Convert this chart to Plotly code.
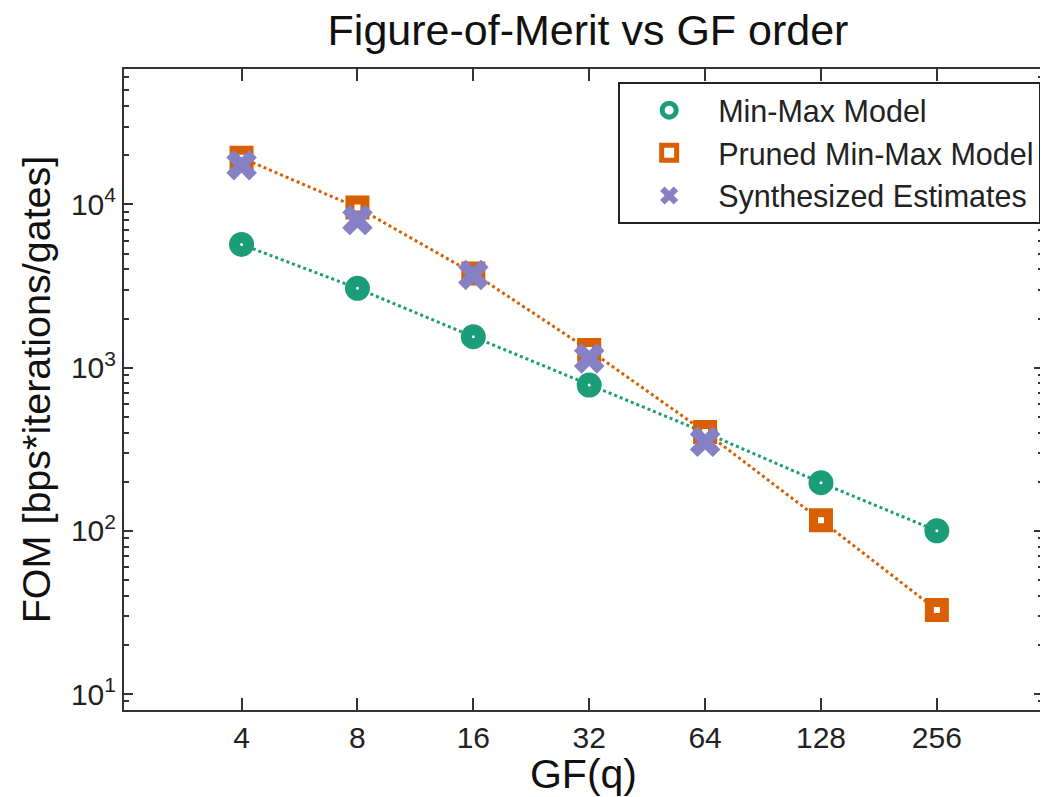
import plotly.graph_objects as go
import math

gf_order = [4, 8, 16, 32, 64, 128, 256]
gf_labels = ["4", "8", "16", "32", "64", "128", "256"]
minmax = [5690, 3060, 1546, 782, 400, 197, 100]
pruned = [19300, 9570, 3780, 1282, 403, 116, 32.7]
synth_q = [4, 8, 16, 32, 64]
synth = [17400, 8020, 3700, 1140, 351]
y_tickvals = [10, 100, 1000, 10000]
y_ticktext = ["10<sup>1</sup>", "10<sup>2</sup>", "10<sup>3</sup>", "10<sup>4</sup>"]

GREEN = "#1b9e77"
ORANGE = "#d95f02"
PURPLE = "#8581c4"
FONT = "Liberation Sans, Arial, sans-serif"

circle_marker = dict(symbol="circle", size=14, color="white", line=dict(color=GREEN, width=11))
square_marker = dict(symbol="square", size=15, color="white", line=dict(color=ORANGE, width=9))
x_marker = dict(symbol="x", size=27, color=PURPLE, line=dict(width=0))

fig = go.Figure()
fig.add_trace(go.Scatter(
    x=gf_order, y=minmax, name="Min-Max Model", mode="lines+markers",
    line=dict(color=GREEN, width=3, dash="dot"), marker=circle_marker, showlegend=False,
))
fig.add_trace(go.Scatter(
    x=gf_order, y=pruned, name="Pruned Min-Max Model", mode="lines+markers",
    line=dict(color=ORANGE, width=3, dash="dot"), marker=square_marker, showlegend=False,
))
fig.add_trace(go.Scatter(
    x=synth_q, y=synth, name="Synthesized Estimates", mode="markers",
    marker=x_marker, showlegend=False,
))
# legend entries (markers only, as in the reference legend)
for name, mk in [("Min-Max Model", circle_marker),
                 ("Pruned Min-Max Model", square_marker),
                 ("Synthesized Estimates", x_marker)]:
    fig.add_trace(go.Scatter(x=[None], y=[None], name=name, mode="markers", marker=mk))

fig.update_layout(
    width=1040, height=789,
    margin=dict(l=116, r=5, t=61, b=87, autoexpand=False),
    paper_bgcolor="white", plot_bgcolor="white",
    font=dict(family=FONT, color="#1a1a1a", size=30),
    title=dict(text="Figure-of-Merit vs GF order", x=0.5577, xanchor="center",
               y=0.972, yanchor="middle", font=dict(size=43, color="#111")),
    showlegend=True,
    legend=dict(x=0.998, xanchor="right", y=0.98, yanchor="top",
                bordercolor="#222", borderwidth=2, bgcolor="white",
                font=dict(size=30.5, color="#222"), itemwidth=88,
                tracegroupgap=0),
)
fig.update_xaxes(
    type="log", range=[math.log10(1.98), math.log10(483)],
    tickvals=gf_order, ticktext=gf_labels, automargin=False,
    ticks="inside", ticklen=12, tickwidth=2, tickcolor="#333",
    showline=True, linecolor="#333", linewidth=2, mirror="ticks",
    showgrid=False, zeroline=False,
    tickfont=dict(size=30, color="#222"),
    title=dict(text="GF(q)", font=dict(size=41, color="#111"), standoff=2),
)
fig.update_yaxes(
    type="log", range=[0.902, 4.83],
    tickvals=y_tickvals, ticktext=y_ticktext, automargin=False,
    ticks="inside", ticklen=9, tickwidth=2, tickcolor="#333",
    minor=dict(ticks="inside", ticklen=5, tickwidth=1.5, tickcolor="#333", dtick="D1"),
    showline=True, linecolor="#333", linewidth=2, mirror="ticks",
    showgrid=False, zeroline=False,
    tickfont=dict(size=30, color="#222"),
    title=dict(text="FOM [bps*iterations/gates]", font=dict(size=39.5, color="#111"), standoff=8),
)

fig.write_html("out.html")
